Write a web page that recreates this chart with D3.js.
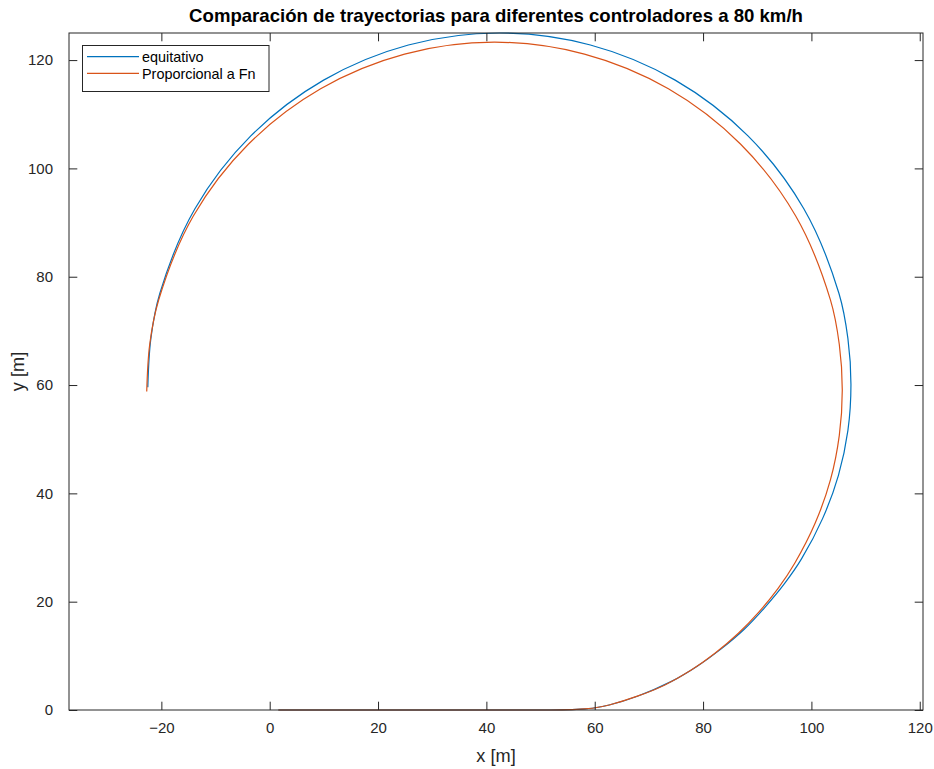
<!DOCTYPE html>
<html>
<head>
<meta charset="utf-8">
<script src="https://cdn.jsdelivr.net/npm/d3@7"></script>
<style>
  html, body { margin: 0; padding: 0; background: #ffffff; }
  svg { display: block; font-family: "Liberation Sans", Arial, Helvetica, sans-serif; }
</style>
</head>
<body>
<svg id="chart" width="934" height="769"></svg>
<script>
// ---- data ----
const seriesNames = ["equitativo", "Proporcional a Fn"];
const seriesColors = ["#0072BD", "#D95319"];

const equitativoX = [1.6, 30, 50, 54, 57.3, 60.1, 62.67, 67.87, 74.08, 78.85, 83.36, 87.6, 91.42, 94.99, 98.17, 102.08, 104.99, 106.74, 107.3, 106.74, 105.09, 98.6, 88.29, 74.85, 59.2, 42.4, 25.6, 9.95, -3.49, -13.8, -20.29, -21.94, -22.5];
const equitativoY = [0, 0, 0, 0.016, 0.15, 0.42, 0.93, 2.55, 5.24, 8.04, 11.29, 14.9, 18.96, 23.28, 27.9, 35.38, 43.33, 51.63, 60.1, 68.57, 76.9, 92.55, 106.0, 116.3, 122.79, 125.0, 122.79, 116.3, 106.0, 92.55, 76.9, 68.57, 59.6];

const proporcionalX = [1.6, 30, 50, 54, 57.3, 60.1, 62.67, 67.87, 72.95, 77.75, 82.25, 86.47, 90.33, 93.85, 96.92, 100.72, 103.51, 105.15, 105.7, 105.15, 103.51, 97.1, 86.9, 73.6, 58.1, 41.5, 24.9, 9.4, -3.9, -14.1, -20.5, -22.15, -22.7];
const proporcionalY = [0, 0, 0, 0.016, 0.15, 0.42, 0.93, 2.55, 4.63, 7.33, 10.53, 14.13, 18.12, 22.45, 27.1, 34.57, 42.48, 50.72, 59.1, 67.48, 75.72, 91.2, 104.5, 114.7, 121.1, 123.3, 121.1, 114.7, 104.5, 91.2, 75.7, 67.48, 58.8];

const xTicks = [-20, 0, 20, 40, 60, 80, 100, 120];
const yTicks = [0, 20, 40, 60, 80, 100, 120];
const xDomain = [-37.05, 120.6];
const yDomain = [0, 125];

const titleText = "Comparación de trayectorias para diferentes controladores a 80 km/h";
const xLabelText = "x [m]";
const yLabelText = "y [m]";

(function () {
// ---- layout ----
const pLeft = 69, pRight = 923, pTop = 33, pBottom = 710;
const axisColor = "#262626";
const tickLen = 8.3;

const svg = d3.select("#chart");
const x = d3.scaleLinear().domain(xDomain).range([pLeft, pRight]);
const y = d3.scaleLinear().domain(yDomain).range([pBottom, pTop]);

svg.append("rect").attr("x", 0).attr("y", 0).attr("width", 934).attr("height", 769).attr("fill", "#ffffff");

// clip
svg.append("clipPath").attr("id", "clip").append("rect")
  .attr("x", pLeft).attr("y", pTop - 1).attr("width", pRight - pLeft).attr("height", pBottom - pTop + 2);

// lines
const series = [
  { xs: equitativoX, ys: equitativoY },
  { xs: proporcionalX, ys: proporcionalY }
];
const line = d3.line()
  .x(d => x(d[0]))
  .y(d => y(d[1]))
  .curve(d3.curveCatmullRom.alpha(0.5));

const gLines = svg.append("g").attr("clip-path", "url(#clip)");
series.forEach((s, i) => {
  const pts = s.xs.map((v, k) => [v, s.ys[k]]);
  gLines.append("path")
    .datum(pts)
    .attr("d", line)
    .attr("fill", "none")
    .attr("stroke", seriesColors[i])
    .attr("stroke-width", 1.2)
    .attr("stroke-linejoin", "round");
});

// axes with inward ticks
const fontSize = 15;
const xAxis = d3.axisBottom(x).tickValues(xTicks).tickSizeInner(-tickLen).tickSizeOuter(0).tickPadding(12).tickFormat(d3.format("d"));
const yAxis = d3.axisLeft(y).tickValues(yTicks).tickSizeInner(-tickLen).tickSizeOuter(0).tickPadding(16).tickFormat(d3.format("d"));
const xTop = d3.axisTop(x).tickValues(xTicks).tickSizeInner(-tickLen).tickSizeOuter(0).tickFormat("");
const yRight = d3.axisRight(y).tickValues(yTicks).tickSizeInner(-tickLen).tickSizeOuter(0).tickFormat("");

function style(g) {
  g.select(".domain").remove();
  g.selectAll(".tick line").attr("stroke", axisColor).attr("stroke-width", 1);
  g.selectAll(".tick text").attr("fill", axisColor).style("font-size", fontSize + "px")
    .style("font-family", "'Liberation Sans', Arial, Helvetica, sans-serif");
}
svg.append("g").attr("transform", `translate(0,${pBottom})`).call(xAxis).call(style);
svg.append("g").attr("transform", `translate(${pLeft},0)`).call(yAxis).call(style);
svg.append("g").attr("transform", `translate(0,${pTop})`).call(xTop).call(style);
svg.append("g").attr("transform", `translate(${pRight},0)`).call(yRight).call(style);

// box
svg.append("rect").attr("x", pLeft).attr("y", pTop).attr("width", pRight - pLeft).attr("height", pBottom - pTop)
  .attr("fill", "none").attr("stroke", axisColor).attr("stroke-width", 1);

// title & labels
svg.append("text").attr("x", (pLeft + pRight) / 2).attr("y", 21.5).attr("text-anchor", "middle")
  .attr("fill", "#000").style("font-size", "18.6px").style("font-weight", "bold").text(titleText);
svg.append("text").attr("x", (pLeft + pRight) / 2).attr("y", 762).attr("text-anchor", "middle")
  .attr("fill", axisColor).style("font-size", "18.2px").text(xLabelText);
svg.append("text").attr("transform", `translate(24,${(pTop + pBottom) / 2}) rotate(-90)`).attr("text-anchor", "middle")
  .attr("fill", axisColor).style("font-size", "18.2px").text(yLabelText);

// legend
const lg = svg.append("g");
lg.append("rect").attr("x", 82.5).attr("y", 45.5).attr("width", 186.5).attr("height", 46)
  .attr("fill", "#ffffff").attr("stroke", axisColor).attr("stroke-width", 1);
seriesNames.forEach((name, i) => {
  const ly = 56.6 + i * 16.8;
  lg.append("line").attr("x1", 87).attr("x2", 139).attr("y1", ly).attr("y2", ly)
    .attr("stroke", seriesColors[i]).attr("stroke-width", 1.2);
  lg.append("text").attr("x", 142).attr("y", ly + 5.1).attr("fill", "#000")
    .style("font-size", "14.4px").text(name);
});
})();
</script>
</body>
</html>
